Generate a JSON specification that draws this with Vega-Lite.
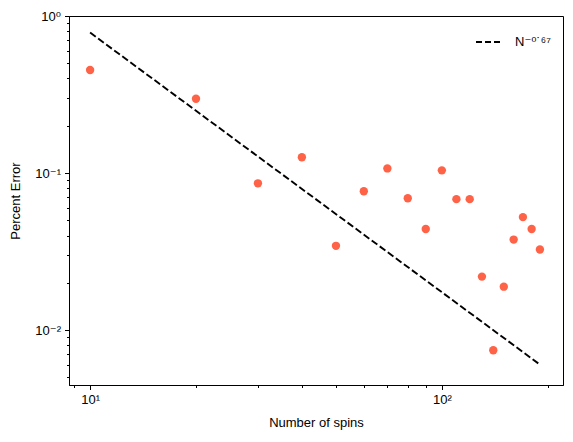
{
  "$schema": "https://vega.github.io/schema/vega-lite/v6.json",
  "width": 494,
  "height": 369,
  "autosize": {"type": "none"},
  "padding": {"left": 69, "top": 16, "right": 10, "bottom": 57},
  "background": "white",
  "config": {
    "font": "Liberation Sans",
    "view": {"stroke": "black", "strokeWidth": 1},
    "axis": {
      "grid": false,
      "domainColor": "black",
      "tickColor": "black",
      "labelColor": "black",
      "titleColor": "black",
      "labelFont": "Liberation Sans, DejaVu Sans",
      "titleFont": "Liberation Sans",
      "labelFontSize": 13,
      "titleFontSize": 13,
      "titleFontWeight": "normal",
      "labelFlush": false,
      "labelOverlap": false
    },
    "legend": {
      "labelFont": "Liberation Sans, DejaVu Sans",
      "labelFontSize": 13,
      "labelColor": "black"
    }
  },
  "datasets": {
    "points": [
      {"N": 10, "err": 0.453},
      {"N": 20, "err": 0.297},
      {"N": 30, "err": 0.086},
      {"N": 40, "err": 0.126},
      {"N": 50, "err": 0.0344},
      {"N": 60, "err": 0.0766},
      {"N": 70, "err": 0.107},
      {"N": 80, "err": 0.0691},
      {"N": 90, "err": 0.044},
      {"N": 100, "err": 0.104},
      {"N": 110, "err": 0.0682},
      {"N": 120, "err": 0.0682},
      {"N": 130, "err": 0.0219},
      {"N": 140, "err": 0.00744},
      {"N": 150, "err": 0.0189},
      {"N": 160, "err": 0.0377},
      {"N": 170, "err": 0.0524},
      {"N": 180, "err": 0.044},
      {"N": 190, "err": 0.0326}
    ],
    "fit": [
      {"N": 10, "err": 0.784, "series": "N⁻⁰˙⁶⁷"},
      {"N": 190, "err": 0.00603, "series": "N⁻⁰˙⁶⁷"}
    ]
  },
  "layer": [
    {
      "data": {"name": "fit"},
      "mark": {"type": "line", "strokeDash": [7, 3], "strokeWidth": 1.9},
      "encoding": {
        "x": {"field": "N", "type": "quantitative"},
        "y": {"field": "err", "type": "quantitative"},
        "color": {
          "field": "series",
          "type": "nominal",
          "scale": {"range": ["black"]},
          "legend": {
            "title": null,
            "orient": "top-right",
            "offset": 12,
            "symbolType": "stroke",
            "symbolDash": [6, 3],
            "symbolStrokeWidth": 1.9,
            "symbolSize": 676,
            "labelOffset": 12
          }
        }
      }
    },
    {
      "data": {"name": "points"},
      "mark": {"type": "circle", "size": 70, "opacity": 1, "color": "#ff6347"},
      "encoding": {
        "x": {
          "field": "N",
          "type": "quantitative",
          "title": "Number of spins",
          "scale": {"type": "log", "domain": [8.71, 221], "nice": false},
          "axis": {
            "values": [9, 10, 20, 30, 40, 50, 60, 70, 80, 90, 100, 200],
            "labelExpr": "datum.value == 10 ? '10¹' : (datum.value == 100 ? '10²' : '')",
            "tickSize": {"condition": {"test": "datum.value == 10 || datum.value == 100", "value": 4.5}, "value": 2.5},
            "labelPadding": 4,
            "titlePadding": 10
          }
        },
        "y": {
          "field": "err",
          "type": "quantitative",
          "title": "Percent Error",
          "scale": {"type": "log", "domain": [0.00447, 1.0], "nice": false},
          "axis": {
            "values": [0.005, 0.006, 0.007, 0.008, 0.009, 0.01, 0.02, 0.03, 0.04, 0.05, 0.06, 0.07, 0.08, 0.09, 0.1, 0.2, 0.3, 0.4, 0.5, 0.6, 0.7, 0.8, 0.9, 1],
            "labelExpr": "datum.value == 1 ? '10⁰' : (datum.value == 0.1 ? '10⁻¹' : (datum.value == 0.01 ? '10⁻²' : ''))",
            "tickSize": {"condition": {"test": "datum.value == 1 || datum.value == 0.1 || datum.value == 0.01", "value": 4.5}, "value": 2.5},
            "labelPadding": 4,
            "titlePadding": 12
          }
        }
      }
    }
  ]
}
